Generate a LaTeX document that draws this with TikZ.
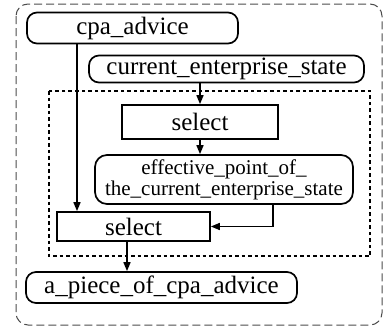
\documentclass[tikz,border=0pt]{standalone}
\usepackage{fontspec}
\setmainfont{Liberation Serif}
\usetikzlibrary{arrows.meta}
\begin{document}
\begin{tikzpicture}[x=1pt,y=-1pt,
  box/.style={draw,line width=1.7pt,inner sep=0pt,font=\fontsize{25}{30}\selectfont},
  rbox/.style={box,rounded corners=10pt},
  arr/.style={line width=1.6pt,-{Triangle[length=9pt,width=7pt]}},
  outerframe/.style={draw=black!70,line width=1pt,dash pattern=on 8pt off 4pt,rounded corners=12pt},
  innerframe/.style={draw,line width=2pt,dash pattern=on 3.5pt off 3pt}]
\useasboundingbox (0,0) rectangle (384,327);
\draw[outerframe] (16,4) rectangle (382,325);
\draw[innerframe] (49,91) rectangle (370,256);
\node[rbox,minimum width=211pt,minimum height=31pt] (cpa) at (132.5,28) {cpa\_advice};
\node[rbox,minimum width=275pt,minimum height=27pt] (ces) at (226.5,69) {current\_enterprise\_state};
\node[box,minimum width=156pt,minimum height=34pt] (sel1) at (200,122) {select};
\node[rbox,rounded corners=12pt,minimum width=258pt,minimum height=49pt,align=center,font=\fontsize{21}{21}\selectfont] (eff) at (224,179.5) {effective\_point\_of\_\\the\_current\_enterprise\_state};
\node[box,minimum width=153pt,minimum height=29pt] (sel2) at (133.5,226.5) {select};
\node[rbox,minimum width=271pt,minimum height=31pt] (piece) at (161.5,287.5) {a\_piece\_of\_cpa\_advice};
\coordinate (ca) at (77,0);
\coordinate (cb) at (273,0);
\coordinate (cc) at (127,0);
\draw[arr] (cpa.south -| ca) -- (sel2.north -| ca);
\draw[arr] (sel1.north |- ces.south) -- (sel1.north);
\draw[arr] (sel1.south) -- (sel1.south |- eff.north);
\draw[arr] (eff.south -| cb) |- (sel2.east);
\draw[arr] (sel2.south -| cc) -- (piece.north -| cc);
\end{tikzpicture}
\end{document}
